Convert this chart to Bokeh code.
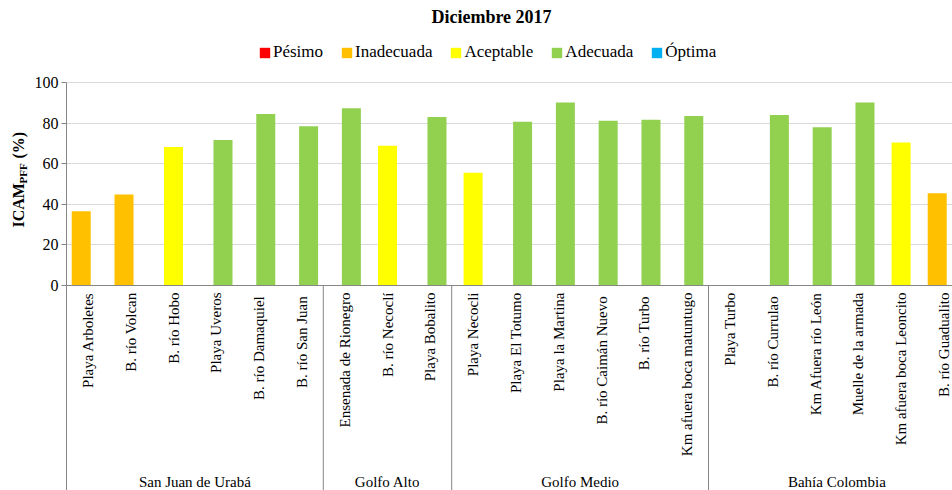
import math
from bokeh.plotting import figure
from bokeh.layouts import row
from bokeh.models import (ColumnDataSource, Range1d, FixedTicker, Span, Legend,
                          LegendItem, Label)
from bokeh.transform import dodge
from bokeh.core.properties import value
from bokeh.embed import file_html
from bokeh.resources import INLINE

# ---------------- data ----------------
title_text = "Diciembre 2017"
classes = ["Pésimo", "Inadecuada", "Aceptable", "Adecuada", "Óptima"]
class_colors = ["#FF0000", "#FFC000", "#FFFF00", "#92D050", "#00B0F0"]

groups = ["San Juan de Urabá", "Golfo Alto", "Golfo Medio", "Bahía Colombia"]
group_sizes = [6, 3, 6, 6]

stations = [
    "Playa Arboletes", "B. río Volcan", "B. río Hobo", "Playa Uveros",
    "B.  río Damaquiel", "B.  río San Juan",
    "Ensenada de Rionegro", "B. río Necoclí", "Playa Bobalito",
    "Playa Necocli", "Playa El Totumo", "Playa la Martina",
    "B.  río Caimán Nuevo", "B.  río Turbo", "Km afuera boca matuntugo",
    "Playa Turbo", "B.  río Currulao", "Km Afuera río León",
    "Muelle de la armada", "Km afuera boca Leoncito", "B. río Guadualito",
]
icam = [36.6, 44.8, 68.2, 71.7, 84.5, 78.4,
        87.3, 68.9, 83.0,
        55.5, 80.7, 90.1, 81.2, 81.7, 83.5,
        float("nan"), 84.0, 77.9, 90.1, 70.5, 45.5]
station_class = ["Inadecuada", "Inadecuada", "Aceptable", "Adecuada", "Adecuada", "Adecuada",
                 "Adecuada", "Aceptable", "Adecuada",
                 "Aceptable", "Adecuada", "Adecuada", "Adecuada", "Adecuada", "Adecuada",
                 "Adecuada", "Adecuada", "Adecuada", "Adecuada", "Aceptable", "Inadecuada"]

y_ticks = [0, 20, 40, 60, 80, 100]

# ---------------- layout constants ----------------
FONT = "Liberation Serif"
W, H = 952, 490
LEFT_W = 30                 # narrow figure holding the y-axis title
FRAME_LEFT = 66             # page x of the value axis
CAT_PX = 42.8               # pixels per category
PX_PER_UNIT = 2.03          # pixels per ICAM unit
Y0_PX = 285                 # page y of value 0

n = len(stations)
x_end = (W - FRAME_LEFT) / CAT_PX
y_top = 100 + (Y0_PX - 100 * PX_PER_UNIT) / PX_PER_UNIT
y_bot = -(H - Y0_PX) / PX_PER_UNIT
y_range = Range1d(y_bot, y_top)


def ypx(py):
    return (Y0_PX - py) / PX_PER_UNIT


p = figure(width=W - LEFT_W, height=H, output_backend="svg", toolbar_location=None,
           x_range=Range1d(0, x_end), y_range=y_range,
           x_axis_location=None, min_border_left=FRAME_LEFT - LEFT_W, min_border_right=0,
           min_border_top=0, min_border_bottom=0, title=None)
p.outline_line_color = None
p.xgrid.visible = False
p.ygrid.ticker = FixedTicker(ticks=y_ticks)
p.ygrid.grid_line_color = "#d9d9d9"
p.ygrid.grid_line_width = 1

ax = p.yaxis[0]
ax.ticker = FixedTicker(ticks=y_ticks)
ax.bounds = (y_bot, 100)
ax.axis_line_color = "#868686"
ax.major_tick_line_color = "#868686"
ax.major_tick_out = 5
ax.major_tick_in = 0
ax.minor_tick_line_color = None
ax.major_label_standoff = 3
ax.major_label_text_font = FONT
ax.major_label_text_font_size = "16px"
ax.major_label_text_color = "#000000"

# bars, one renderer per class, dodged like the original series
centers = [i + 0.5 for i in range(n)]
bar_w = 19 / CAT_PX
step = 0.156
legend_items = []
for k, (cls, col) in enumerate(zip(classes, class_colors)):
    tops = [icam[i] if station_class[i] == cls else float("nan") for i in range(n)]
    src = ColumnDataSource(dict(x=centers, top=tops))
    r = p.vbar(x=dodge("x", (k - 2) * step), top="top", bottom=0, width=bar_w,
               source=src, fill_color=col, line_color=None)
    legend_items.append(LegendItem(label=cls, renderers=[r]))

# x axis line at 0
p.add_layout(Span(location=0, dimension="width", line_color="#868686", line_width=1))

# group separators
bounds = []
acc = 0
for s in group_sizes[:-1]:
    acc += s
    bounds.append(acc)
p.segment(x0=bounds, x1=bounds, y0=[0] * len(bounds), y1=[y_bot] * len(bounds),
          line_color="#868686", line_width=1)

# category labels
p.text(x=centers, y=[ypx(292)] * n, text=stations, angle=math.pi / 2,
       text_align="right", text_baseline="middle",
       text_font=value(FONT), text_font_size="15px", text_color="#000000")

# group labels
gcent = []
acc = 0
for s in group_sizes:
    gcent.append(acc + s / 2)
    acc += s
p.text(x=gcent, y=[ypx(481)] * len(groups), text=groups, text_align="center",
       text_baseline="alphabetic", text_font=value(FONT), text_font_size="15px",
       text_color="#000000")

# title
p.add_layout(Label(x=(491 - FRAME_LEFT) / CAT_PX, y=ypx(16), text=title_text,
                   text_align="center", text_baseline="middle", text_font=FONT,
                   text_font_size="18px", text_font_style="bold", text_color="#000000"))

# legend
legend = Legend(items=legend_items, orientation="horizontal", location=(192, H - 62),
                glyph_width=13, glyph_height=13, label_standoff=2, spacing=17,
                padding=0, margin=0, border_line_color=None, background_fill_alpha=0,
                label_text_font=FONT, label_text_font_size="17px",
                label_text_color="#000000", label_height=13)
p.add_layout(legend, "center")

# ---------------- y-axis title (with subscript) in a narrow figure ----------------
q = figure(width=LEFT_W, height=H, output_backend="svg", toolbar_location=None,
           x_range=Range1d(0, LEFT_W), y_range=y_range, x_axis_location=None,
           y_axis_location=None, min_border_left=0, min_border_right=0,
           min_border_top=0, min_border_bottom=0, title=None)
q.outline_line_color = None
q.grid.visible = False
q.text(x=[18, 22.5, 18], y=[ypx(227), ypx(183), ypx(158)], text=["ICAM", "PFF", "(%)"],
       angle=math.pi / 2, text_align="left", text_baseline="middle",
       text_font=value(FONT), text_font_size=["16px", "11px", "16px"],
       text_font_style="bold", text_color="#000000")

layout = row(q, p, spacing=0)
open("out.html", "w").write(file_html(layout, INLINE))
